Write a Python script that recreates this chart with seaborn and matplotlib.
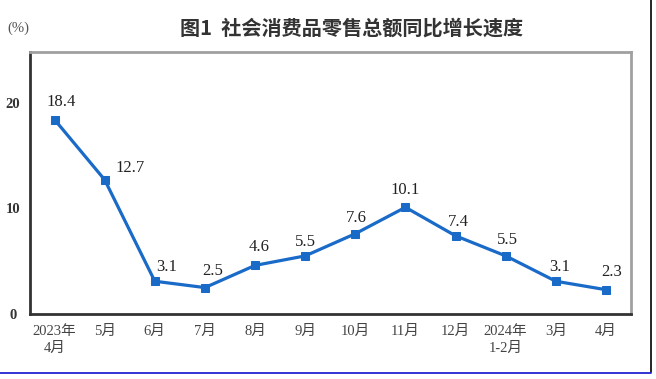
import pandas as pd
import numpy as np
import matplotlib.pyplot as plt
from matplotlib.lines import Line2D
from matplotlib.ticker import FixedLocator, NullFormatter
import seaborn as sns

months = ['2023年\n4月', '5月', '6月', '7月', '8月', '9月', '10月', '11月',
          '12月', '2024年\n1-2月', '3月', '4月']
growth = [18.4, 12.7, 3.1, 2.5, 4.6, 5.5, 7.6, 10.1, 7.4, 5.5, 3.1, 2.3]
title = '图1  社会消费品零售总额同比增长速度'

df = pd.DataFrame({'month': months, 'growth': growth})

sns.set_style('white')
plt.rcParams['font.family'] = ['Liberation Serif', 'Noto Sans CJK SC']

fig = plt.figure(figsize=(6.56, 3.79), dpi=100)
ax = fig.add_axes([29.5 / 656, 1 - 314 / 379, 601.5 / 656, 262 / 379])

blue = '#1a6ac8'
sns.lineplot(data=df, x='month', y='growth', ax=ax, color=blue, lw=2.3,
             marker='s', markersize=6, markeredgecolor=blue, sort=False)

# label offsets in pixels (dx, dy up)
offs = [(7, 18), (25, 12), (12, 14), (8, 17), (4, 18), (0, 14),
        (1, 16), (0, 17), (3, 14), (2, 16), (4, 14), (6, 18)]
for i, v in enumerate(growth):
    dx, dy = offs[i]
    ax.annotate(f'{v}', (i, v), xytext=(dx * 0.72, dy * 0.72),
                textcoords='offset points', ha='center', va='center',
                fontsize=12, family='Liberation Serif', color='#222222')

ax.set_xlim(-0.5, len(months) - 0.5)
ax.set_ylim(0, 24.8)
ax.set_yticks([0, 10, 20])
ax.set_yticklabels(['0', '10', '20'], fontsize=10.5, fontweight='bold', color='#333333')
ax.set_xticks(range(len(months)))
ax.set_xticklabels(months, fontsize=10.5, color='#444444', linespacing=1.4)
ax.xaxis.set_minor_locator(FixedLocator(np.arange(0.5, len(months) - 0.5, 1)))
ax.xaxis.set_minor_formatter(NullFormatter())
ax.tick_params(axis='x', which='major', length=0, pad=8)
ax.tick_params(axis='x', which='minor', direction='in', length=5, width=1.3, color='#333333')
ax.tick_params(axis='y', direction='in', length=4, width=1.3, color='#333333', pad=12)
for lab in ax.get_yticklabels():
    lab.set_horizontalalignment('center')
ax.set_xlabel('')
ax.set_ylabel('')

for s in ['left', 'bottom']:
    ax.spines[s].set_color('#333333')
    ax.spines[s].set_linewidth(2)
for s in ['top', 'right']:
    ax.spines[s].set_color('#a0a0a0')
    ax.spines[s].set_linewidth(2)

fig.text(352 / 656, 1 - 28 / 379, title, ha='center', va='center', fontsize=14.5,
         fontweight='bold', family='Noto Sans CJK SC', color='#333333')
fig.text(18 / 656, 1 - 28 / 379, '(%)', ha='center', va='center', fontsize=10.5,
         color='#555555', family=['Liberation Serif', 'Noto Sans CJK SC'])

fig.add_artist(Line2D([650.5 / 656, 650.5 / 656], [1 - 372 / 379, 1], color='black', lw=1.2))
fig.add_artist(Line2D([0, 650.5 / 656], [1 - 372.5 / 379, 1 - 372.5 / 379], color='#1010d0', lw=1.2))

plt.savefig('out.png', dpi=100)
